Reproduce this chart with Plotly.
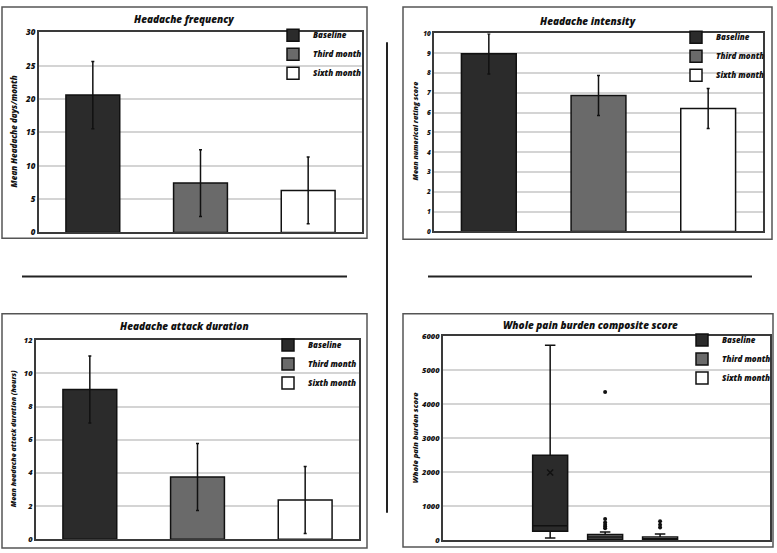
import plotly.graph_objects as go

W, H = 777, 553

# ---------------- data ----------------
categories = ["Baseline", "Third month", "Sixth month"]
colors = ["#2b2b2b", "#6a6a6a", "#ffffff"]

freq_mean = [20.6, 7.4, 6.3]
freq_sd = [5.05, 5.0, 5.0]

intensity_mean = [8.97, 6.86, 6.21]
intensity_sd = [1.02, 1.01, 1.01]

duration_mean = [9.03, 3.75, 2.37]
duration_sd = [2.02, 2.02, 2.02]

burden_q1 = [260, 30, 10]
burden_median = [425, 95, 45]
burden_q3 = [2500, 165, 95]
burden_lower = [65, 0, 0]
burden_upper = [5740, 240, 180]
burden_mean = [1990]
burden_outliers = [[], [350, 400, 450, 520, 620, 4360], [375, 455, 560]]

FONT = "Open Sans"
WEIGHT = 800


def px_x(p):
    return p / W


def px_y(p):
    return 1 - p / H


fig = go.Figure()

panels = [
    ("x", "y", "legend", freq_mean, freq_sd),
    ("x2", "y2", "legend2", intensity_mean, intensity_sd),
    ("x3", "y3", "legend3", duration_mean, duration_sd),
]
for xa, ya, lg, means, sds in panels:
    for i, cat in enumerate(categories):
        fig.add_trace(go.Bar(
            x=[cat], y=[means[i]], name=cat,
            marker=dict(color=colors[i], line=dict(color="#111111", width=1.5)),
            error_y=dict(type="data", array=[sds[i]], color="#111111", thickness=1.5, width=1.5),
            xaxis=xa, yaxis=ya, legend=lg,
        ))

for i, cat in enumerate(categories):
    fig.add_trace(go.Box(
        x=[cat], q1=[burden_q1[i]], median=[burden_median[i]], q3=[burden_q3[i]],
        lowerfence=[burden_lower[i]], upperfence=[burden_upper[i]],
        name=cat, fillcolor=colors[i], line=dict(color="#111111", width=1.5),
        whiskerwidth=0.3, boxpoints=False,
        xaxis="x4", yaxis="y4", legend="legend4",
    ))
for i, cat in enumerate(categories):
    if burden_outliers[i]:
        fig.add_trace(go.Scatter(
            x=[cat] * len(burden_outliers[i]), y=burden_outliers[i], mode="markers",
            marker=dict(color="#111111", size=4), showlegend=False,
            xaxis="x4", yaxis="y4", hoverinfo="y",
        ))
fig.add_trace(go.Scatter(
    x=categories[:1], y=burden_mean, mode="markers",
    marker=dict(symbol="x-thin", size=6, line=dict(color="#111111", width=1.5)),
    showlegend=False, xaxis="x4", yaxis="y4",
))

axis_line = dict(showline=True, linecolor="#3a3a3a", linewidth=2, mirror=True)
grid = dict(showgrid=True, gridcolor="#d4d4d4", gridwidth=1.5, zeroline=False)


def tickfont(size):
    return dict(family=FONT, size=size, color="#111111", weight=WEIGHT, style="italic")


layout = dict(
    width=W, height=H, margin=dict(l=0, r=0, t=0, b=0),
    paper_bgcolor="white", plot_bgcolor="white",
    barmode="overlay", bargap=0.5, boxmode="overlay", boxgap=0.09,
    font=dict(family=FONT),
    xaxis=dict(domain=[px_x(39), px_x(362)], anchor="y", type="category",
               categoryorder="array", categoryarray=categories,
               showticklabels=False, ticks="", **axis_line),
    yaxis=dict(domain=[px_y(231), px_y(27)], anchor="x", range=[0, 30], dtick=5,
               tickfont=tickfont(8), ticks="", **axis_line, **grid),
    xaxis2=dict(domain=[px_x(434), px_x(763)], anchor="y2", type="category",
                categoryorder="array", categoryarray=categories,
                showticklabels=False, ticks="", **axis_line),
    yaxis2=dict(domain=[px_y(230), px_y(28)], anchor="x2", range=[0, 10], dtick=1,
                tickfont=tickfont(6.5), ticks="", **axis_line, **grid),
    xaxis3=dict(domain=[px_x(36), px_x(359)], anchor="y3", type="category",
                categoryorder="array", categoryarray=categories,
                showticklabels=False, ticks="", **axis_line),
    yaxis3=dict(domain=[px_y(544), px_y(341)], anchor="x3", range=[0, 12], dtick=2,
                tickfont=tickfont(7.5), ticks="", **axis_line, **grid),
    xaxis4=dict(domain=[px_x(443), px_x(770)], anchor="y4", type="category",
                categoryorder="array", categoryarray=categories, range=[-1.95, 4.0],
                showticklabels=False, ticks="", **axis_line),
    yaxis4=dict(domain=[px_y(545), px_y(337)], anchor="x4", range=[0, 6000], dtick=1000,
                tickfont=tickfont(7.5), ticks="", **axis_line, **grid),
)

legend_font = dict(family=FONT, size=8, color="#111111", weight=WEIGHT, style="italic")
for name, lx, ly in [("legend", 273, 15), ("legend2", 676, 17), ("legend3", 268, 331), ("legend4", 682, 326)]:
    layout[name] = dict(x=px_x(lx), y=px_y(ly), xanchor="left", yanchor="top",
                        bgcolor="rgba(0,0,0,0)", font=legend_font, itemclick=False,
                        tracegroupgap=0)

fig.update_layout(**layout)

title_font = dict(family=FONT, size=10, color="#111111", weight=WEIGHT, style="italic")
titles = [
    ("Headache frequency", 184, 13),
    ("Headache intensity", 588, 15),
    ("Headache attack duration", 184, 327),
    ("Whole pain burden composite score", 590, 325),
]
for t, x, y in titles:
    fig.add_annotation(text=t, x=px_x(x), y=px_y(y), xref="paper", yref="paper",
                       showarrow=False, font=title_font, xanchor="center", yanchor="middle")

ytitles = [
    ("Mean Headache days/month", 13, 128, 8),
    ("Mean numerical rating score", 415, 128, 7),
    ("Mean headache attack duration (hours)", 13, 442, 7),
    ("Whole pain burden score", 415, 441, 7.5),
]
for t, x, y, s in ytitles:
    fig.add_annotation(text=t, x=px_x(x), y=px_y(y), xref="paper", yref="paper",
                       showarrow=False, textangle=-90, xanchor="center", yanchor="middle",
                       font=dict(family=FONT, size=s, color="#111111", weight=WEIGHT, style="italic"))

# panel frames and separators
frames = [(2, 1, 367, 237), (403, 1, 772, 238), (2, 314, 367, 553), (403, 314, 773, 552)]
for x0, y0, x1, y1 in frames:
    fig.add_shape(type="rect", xref="paper", yref="paper",
                  x0=px_x(x0), x1=px_x(x1), y0=px_y(y1), y1=px_y(y0),
                  line=dict(color="#555555", width=1.5), fillcolor="rgba(0,0,0,0)", layer="below")
for x0, y0, x1, y1 in [(22, 276, 347, 276), (428, 276, 752, 276), (387, 37, 387, 517)]:
    fig.add_shape(type="line", xref="paper", yref="paper",
                  x0=px_x(x0), x1=px_x(x1), y0=px_y(y0), y1=px_y(y1),
                  line=dict(color="#222222", width=2))

fig.write_html("out.html", config={"displayModeBar": False},
               post_script="document.body.style.margin='0';document.body.style.overflow='hidden';")
